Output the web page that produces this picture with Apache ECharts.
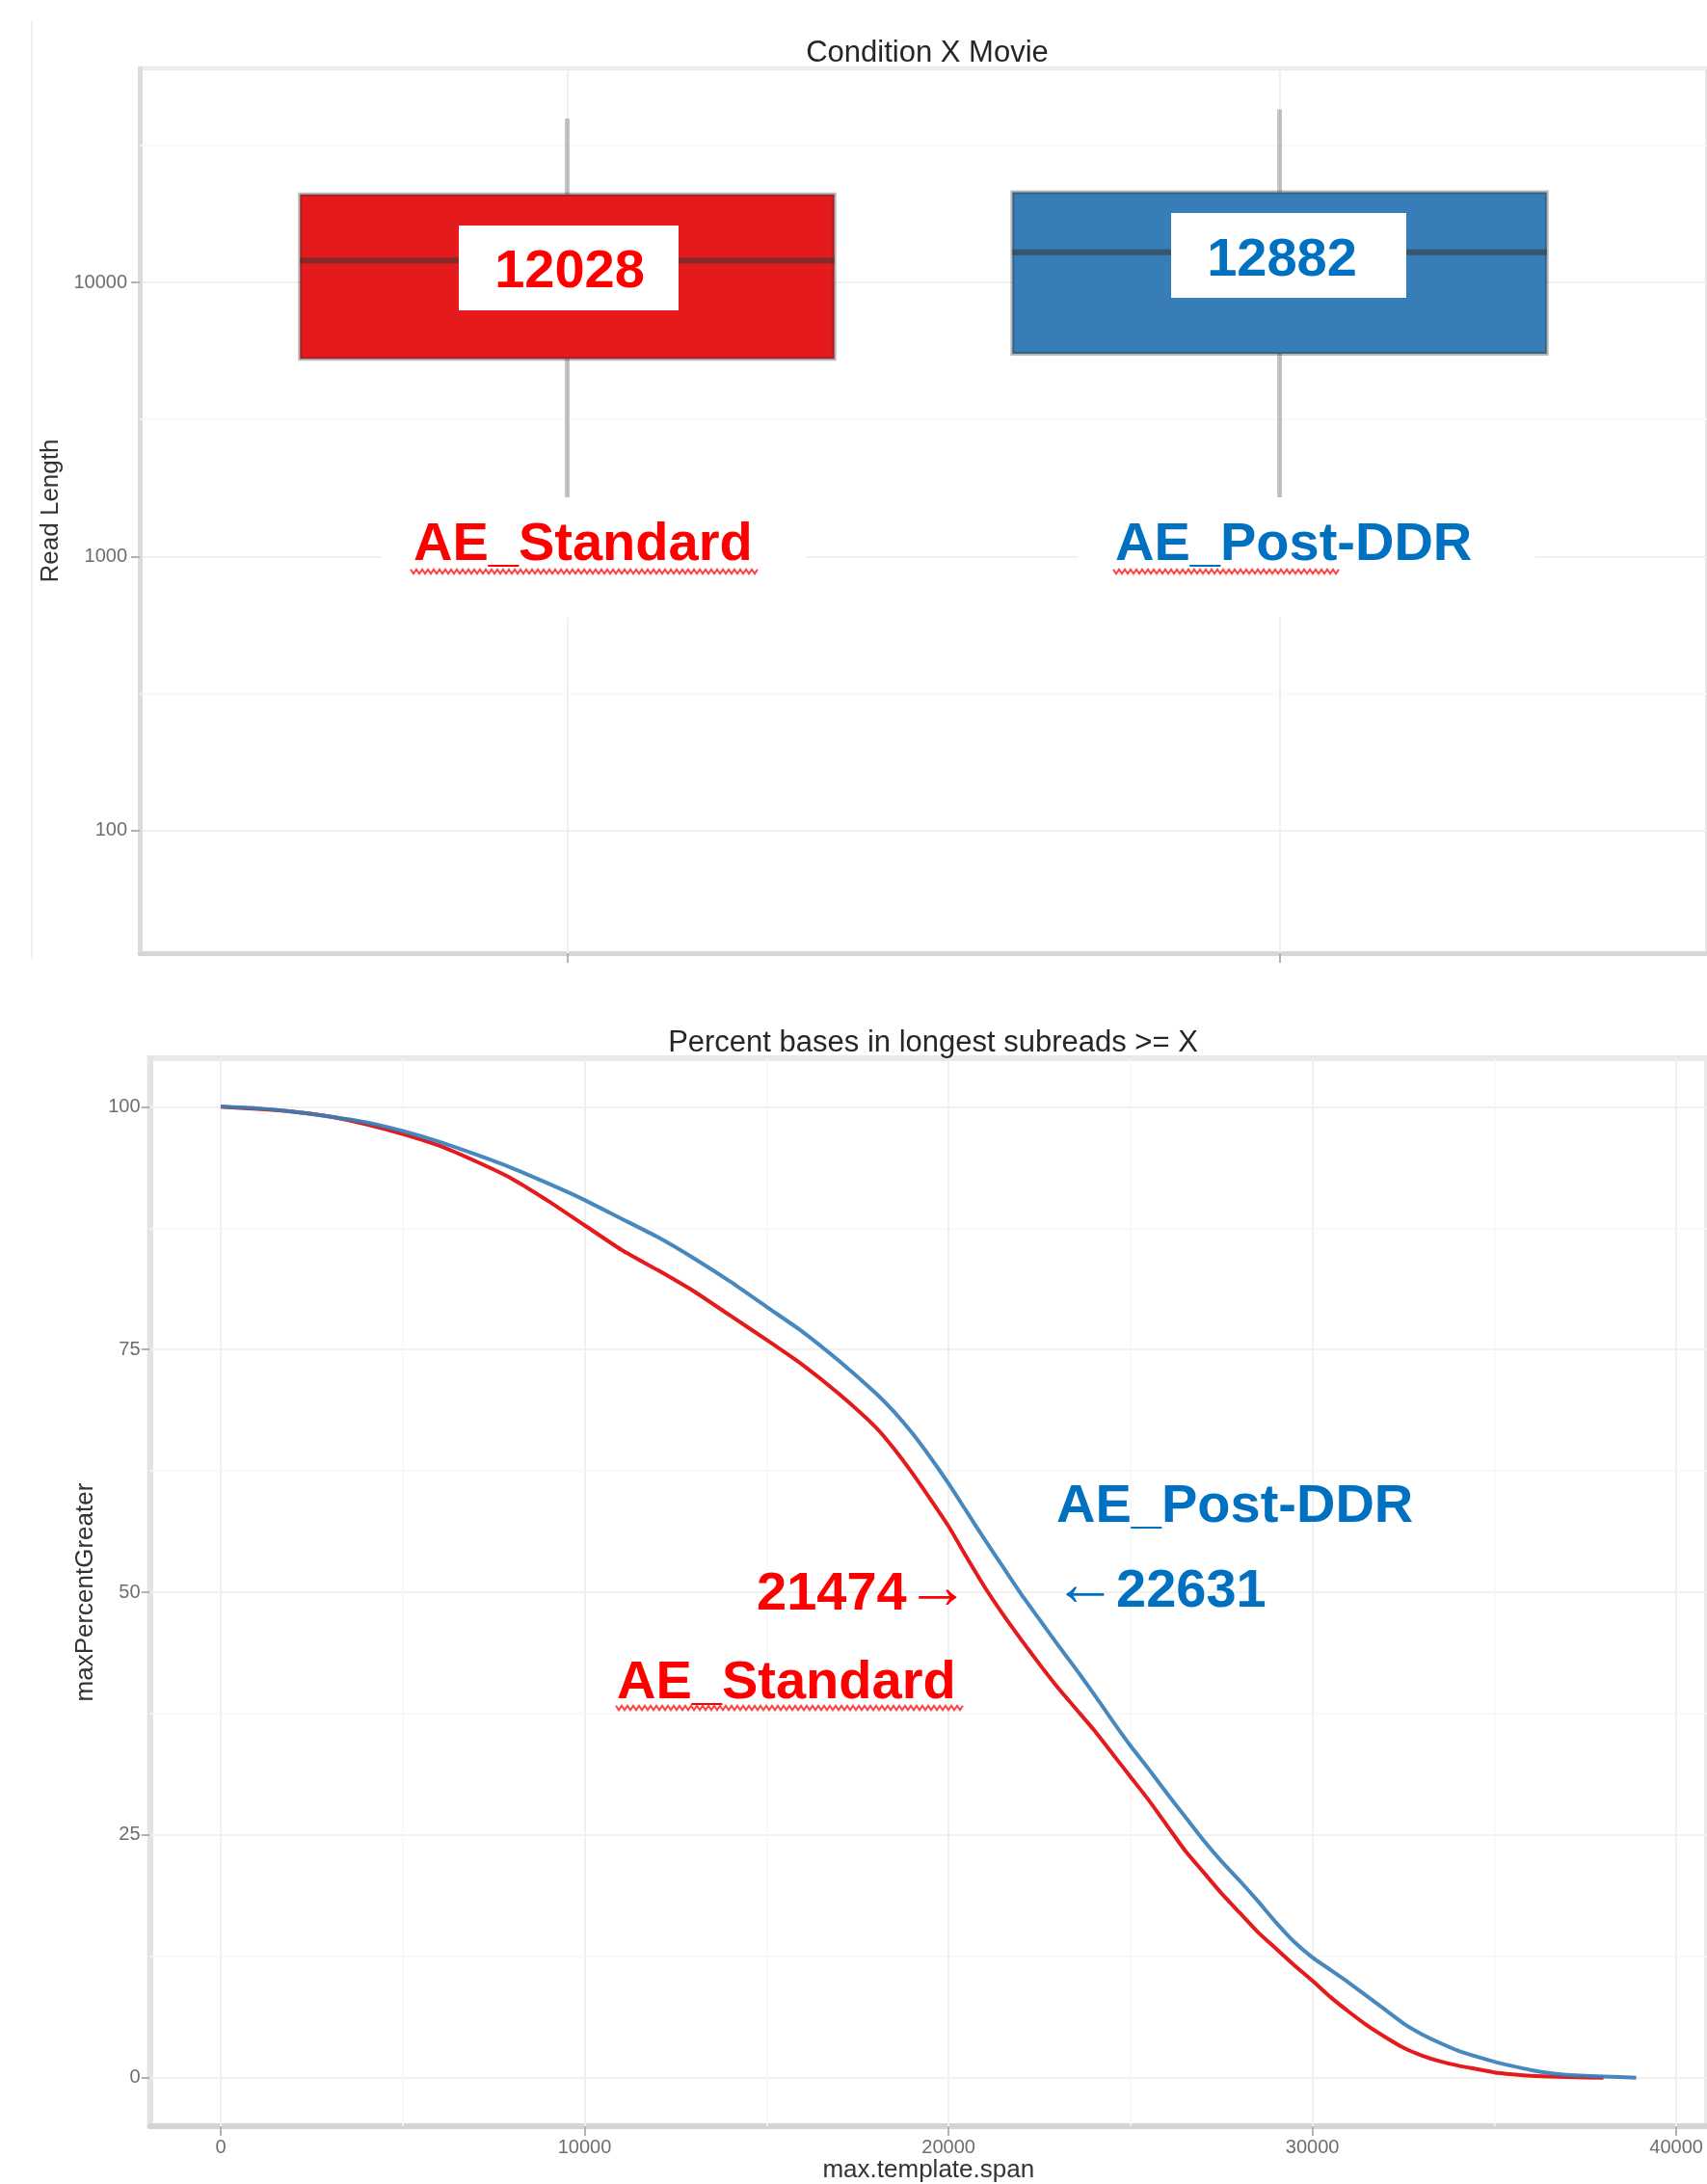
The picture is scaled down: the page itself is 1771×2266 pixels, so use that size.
<!DOCTYPE html>
<html>
<head>
<meta charset="utf-8">
<script src="https://cdn.jsdelivr.net/npm/echarts@6/dist/echarts.min.js"></script>
<style>
html,body{margin:0;padding:0;background:#ffffff;}
#chart{width:1771px;height:2266px;}
</style>
</head>
<body>
<div id="chart"></div>
<script>
// ---------- Top panel: read length box plots (log scale) ----------
const boxCategories = ['AE_Standard', 'AE_Post-DDR'];
const boxLow    = [680, 730];
const boxQ1     = [5261, 5492];
const boxMedian = [12028, 12882];
const boxQ3     = [20950, 21340];
const boxHigh   = [39630, 42800];
const boxColors = ['#e41a1c', '#377eb8'];
const readLengthMinorGrid = [316.23, 3162.28, 31622.78];

// ---------- Bottom panel: percent bases in longest subreads >= X ----------
const spanStandard = [0,1000,2000,3000,4000,5000,6000,7000,8000,9000,10000,11000,12000,13000,14000,15000,16000,17000,18000,
  18500,19000,19500,20000,20500,21000,21500,22000,22500,23000,23500,24000,24500,25000,25500,26000,26500,27000,27500,28000,
  28500,29000,29500,30000,30500,31000,31500,32000,32500,33000,33500,34000,34500,35000,35500,36000,37000,38000];
const pctStandard = [100,99.8,99.5,99.0,98.2,97.2,96.0,94.4,92.6,90.3,87.8,85.3,83.2,81.0,78.5,76.0,73.4,70.4,67.0,
  64.8,62.3,59.6,56.8,53.6,50.5,47.7,45.1,42.6,40.2,38.0,35.8,33.4,31.0,28.6,26.0,23.4,21.2,19.0,17.0,
  15.0,13.3,11.6,10.0,8.3,6.8,5.4,4.2,3.1,2.3,1.7,1.25,0.9,0.55,0.35,0.2,0.07,0];
const spanPostDDR = [0,1000,2000,3000,4000,5000,6000,7000,8000,9000,10000,11000,12000,13000,14000,15000,16000,17000,18000,
  18500,19000,19500,20000,20500,21000,21500,22000,22500,23000,23500,24000,24500,25000,25500,26000,26500,27000,27500,28000,
  28500,29000,29500,30000,30500,31000,31500,32000,32500,33000,33500,34000,34500,35000,35500,36000,36500,37000,38000,38900];
const pctPostDDR = [100,99.85,99.5,99.0,98.4,97.5,96.4,95.1,93.7,92.1,90.4,88.5,86.6,84.4,82.0,79.4,76.8,73.8,70.5,
  68.6,66.4,63.9,61.2,58.3,55.4,52.6,49.8,47.2,44.6,42.1,39.5,36.8,34.2,31.8,29.3,26.9,24.5,22.3,20.3,
  18.2,16.0,14.0,12.4,11.1,9.8,8.4,7.0,5.6,4.5,3.6,2.8,2.2,1.65,1.2,0.8,0.5,0.3,0.12,0];
const spanTicks = [0, 10000, 20000, 30000, 40000];
const spanMinor = [5000, 15000, 25000, 35000];
const pctTicks = [0, 25, 50, 75, 100];
const pctMinor = [12.5, 37.5, 62.5, 87.5];

const FONT = 'Liberation Sans';
const RED = '#ff0000';
const BLUE = '#0070c0';

const chart = echarts.init(document.getElementById('chart'), null, {renderer: 'canvas'});

function squiggle(x1, x2, y, color) {
  const pts = [];
  let k = 0;
  for (let x = x1; x <= x2; x += 3, k++) pts.push([x, y + (k % 2 ? 2.2 : -2.2)]);
  return {type: 'polyline', z: 101, silent: true, shape: {points: pts},
          style: {stroke: color, lineWidth: 2, fill: null, opacity: 0.85}};
}
function txt(text, x, y, color, align, font) {
  return {type: 'text', z: 102, silent: true,
    style: {text: text, x: x, y: y, fill: color, font: font || ('bold 56px "' + FONT + '"'),
            align: align, textAlign: align, verticalAlign: 'middle', textVerticalAlign: 'middle'}};
}
function whiteRect(x, y, w, h) {
  return {type: 'rect', z: 100, silent: true, shape: {x: x, y: y, width: w, height: h}, style: {fill: '#ffffff'}};
}
const ARROW_FONT = '66px "' + FONT + '"';

const majorGrid = {color: '#f0f0f0', width: 2, type: 'solid'};
const minorGrid = {color: '#f7f7f7', width: 1.5, type: 'solid'};
const tickStyle = {color: '#b3b3b3', width: 2};
const labelStyle = {fontSize: 20, color: '#6e6e6e', fontFamily: FONT};
const nameStyle = {fontSize: 26, color: '#333333', fontFamily: FONT};

const option = {
  animation: false,
  backgroundColor: '#ffffff',
  textStyle: {fontFamily: FONT},
  grid: [
    {left: 145, top: 71, width: 1633, height: 918, show: true, borderColor: '#e6e6e6', borderWidth: 4},
    {left: 155.6, top: 1098, width: 1624.3, height: 1113, show: true, borderColor: '#e9e9e9', borderWidth: 6}
  ],
  xAxis: [
    {gridIndex: 0, type: 'value', min: 0.4, max: 2.6,
     axisLine: {show: true, onZero: false, lineStyle: {color: '#d6d6d6', width: 5}},
     axisTick: {show: true, customValues: [1, 2], length: 10, lineStyle: tickStyle},
     axisLabel: {show: false},
     splitLine: {show: false}},
    {gridIndex: 1, type: 'value', min: -1945, max: 40845,
     axisLine: {show: true, onZero: false, lineStyle: {color: '#d4d4d4', width: 6}},
     axisTick: {show: true, customValues: spanTicks, length: 10, lineStyle: tickStyle},
     axisLabel: Object.assign({customValues: spanTicks, margin: 12, formatter: v => String(v)}, labelStyle),
     splitLine: {show: false},
     name: 'max.template.span', nameLocation: 'middle', nameGap: 29, nameTextStyle: nameStyle}
  ],
  yAxis: [
    {gridIndex: 0, type: 'log', logBase: 10, min: 35.66, max: 60380,
     axisLine: {show: true, onZero: false, lineStyle: {color: '#dcdcdc', width: 5}},
     axisTick: {show: true, length: 9, lineStyle: tickStyle},
     axisLabel: Object.assign({margin: 13, showMinLabel: false, showMaxLabel: false,
       formatter: v => String(Math.round(v))}, labelStyle),
     splitLine: {show: true, lineStyle: majorGrid},
     name: 'Read Length', nameLocation: 'middle', nameGap: 59, nameTextStyle: nameStyle},
    {gridIndex: 1, type: 'value', min: -5, max: 105,
     axisLine: {show: true, onZero: false, lineStyle: {color: '#e3e3e3', width: 6}},
     axisTick: {show: true, customValues: pctTicks, length: 9, lineStyle: tickStyle},
     axisLabel: Object.assign({customValues: pctTicks, margin: 10, formatter: v => String(v)}, labelStyle),
     splitLine: {show: false},
     name: 'maxPercentGreater', nameLocation: 'middle', nameGap: 33, nameTextStyle: nameStyle}
  ],
  series: [
    // gridlines, top panel
    {type: 'line', xAxisIndex: 0, yAxisIndex: 0, data: [], silent: true, z: 1,
     markLine: {silent: true, z: 1, symbol: ['none', 'none'], label: {show: false}, animation: false,
       lineStyle: majorGrid,
       data: [{xAxis: 1}, {xAxis: 2}].concat(readLengthMinorGrid.map(v => ({yAxis: v, lineStyle: minorGrid})))}},
    // box plots
    {type: 'custom', xAxisIndex: 0, yAxisIndex: 0, z: 3,
     data: boxCategories.map((c, i) => [i + 1, boxLow[i], boxQ1[i], boxMedian[i], boxQ3[i], boxHigh[i]]),
     encode: {x: 0, y: [1, 2, 3, 4, 5]},
     renderItem: function (params, api) {
       const i = params.dataIndex;
       const x = api.value(0);
       const pLow = api.coord([x, api.value(1)]);
       const pQ1 = api.coord([x, api.value(2)]);
       const pMed = api.coord([x, api.value(3)]);
       const pQ3 = api.coord([x, api.value(4)]);
       const pHigh = api.coord([x, api.value(5)]);
       const xl = api.coord([x - 0.375, api.value(3)])[0];
       const xr = api.coord([x + 0.375, api.value(3)])[0];
       const wStyle = {stroke: 'rgba(50,50,50,0.28)', lineWidth: 5};
       return {type: 'group', children: [
         {type: 'line', shape: {x1: pQ3[0], y1: pQ3[1], x2: pHigh[0], y2: pHigh[1]}, style: wStyle},
         {type: 'line', shape: {x1: pQ1[0], y1: pQ1[1], x2: pLow[0], y2: pLow[1]}, style: wStyle},
         {type: 'rect', shape: {x: xl, y: pQ3[1], width: xr - xl, height: pQ1[1] - pQ3[1]},
          style: {fill: boxColors[i], stroke: 'rgba(50,50,50,0.35)', lineWidth: 4}},
         {type: 'line', shape: {x1: xl, y1: pMed[1], x2: xr, y2: pMed[1]},
          style: {stroke: 'rgba(54,54,54,0.56)', lineWidth: 6}}
       ]};
     }},
    // gridlines, bottom panel
    {type: 'line', xAxisIndex: 1, yAxisIndex: 1, data: [], silent: true, z: 1,
     markLine: {silent: true, z: 1, symbol: ['none', 'none'], label: {show: false}, animation: false,
       lineStyle: majorGrid,
       data: [].concat(
         spanTicks.map(v => ({xAxis: v})),
         pctTicks.map(v => ({yAxis: v})),
         spanMinor.map(v => ({xAxis: v, lineStyle: minorGrid})),
         pctMinor.map(v => ({yAxis: v, lineStyle: minorGrid})))}},
    {type: 'line', name: 'AE_Standard', xAxisIndex: 1, yAxisIndex: 1, z: 3,
     data: spanStandard.map((x, i) => [x, pctStandard[i]]),
     showSymbol: false, smooth: 0.2,
     lineStyle: {color: '#e41a1c', width: 4, join: 'round'}},
    {type: 'line', name: 'AE_Post-DDR', xAxisIndex: 1, yAxisIndex: 1, z: 4,
     data: spanPostDDR.map((x, i) => [x, pctPostDDR[i]]),
     showSymbol: false, smooth: 0.2,
     lineStyle: {color: '#377eb8', width: 4, opacity: 0.92, join: 'round'}}
  ],
  graphic: [
    {type: 'line', z: 0, silent: true, shape: {x1: 33, y1: 22, x2: 33, y2: 995}, style: {stroke: '#f0f0f0', lineWidth: 2}},
    txt('Condition X Movie', 962, 55, '#262626', 'center', '31px "' + FONT + '"'),
    txt('Percent bases in longest subreads >= X', 968, 1082, '#262626', 'center', '31px "' + FONT + '"'),
    // top annotations
    whiteRect(476, 234, 228, 88),
    txt('12028', 591, 283, RED, 'center'),
    whiteRect(1215, 221, 244, 88),
    txt('12882', 1330, 271, BLUE, 'center'),
    whiteRect(395, 516, 441, 125),
    txt('AE_Standard', 429, 565.5, RED, 'left'),
    squiggle(426, 787, 593, '#ff2020'),
    whiteRect(1118, 516, 475, 125),
    txt('AE_Post-DDR', 1157, 565.5, BLUE, 'left'),
    squiggle(1155, 1391, 593, '#ff2020'),
    // bottom annotations
    txt('AE_Post-DDR', 1096, 1564, BLUE, 'left'),
    txt('21474', 785, 1655, RED, 'left'),
    txt('\u2192', 940, 1650, RED, 'left', ARROW_FONT),
    txt('\u2190', 1093, 1647, BLUE, 'left', ARROW_FONT),
    txt('22631', 1158, 1652, BLUE, 'left'),
    txt('AE_Standard', 640, 1747, RED, 'left'),
    squiggle(639, 999, 1772, '#ff2020')
  ]
};
chart.setOption(option);
</script>
</body>
</html>
